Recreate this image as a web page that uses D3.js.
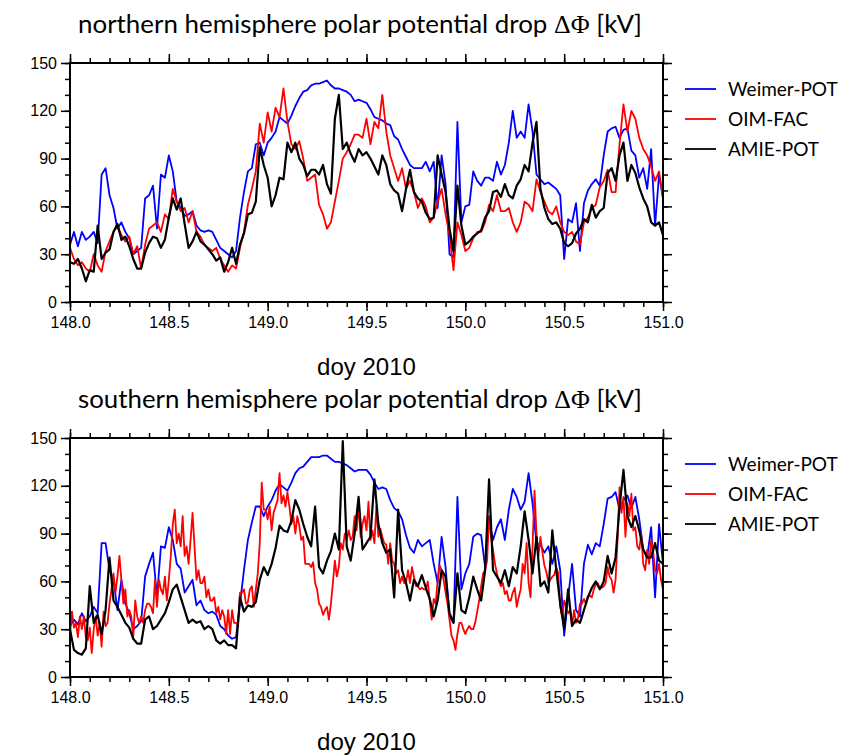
<!DOCTYPE html>
<html>
<head>
<meta charset="utf-8">
<script src="https://cdn.jsdelivr.net/npm/d3@7"></script>
<style>
  html, body { margin: 0; padding: 0; background: #fff; }
  svg { display: block; }
</style>
</head>
<body>
<div id="chart"></div>
<script>
// series are sampled on a regular grid starting at doy 148.0
const T_START = 148
const STEP_COARSE = 0.02
const STEP_FINE = 0.01

const X_MAJOR = [148, 148.5, 149, 149.5, 150, 150.5, 151]
const Y_MAJOR = [0, 30, 60, 90, 120, 150]

const SERIES_NAMES = ['Weimer-POT', 'OIM-FAC', 'AMIE-POT']
const SERIES_COLORS = ['#0000ff', '#ff0000', '#000000']

const NH_WEIMER = [
  36,44,35,44,39,41,44,37,80,84, 67,59,46,50,44,40,30,32,34,65,
  67,73,46,80,78,92,82,63,59,54, 55,57,48,45,44,45,44,39,34,32,
  30,28,32,53,69,82,84,99,100,92, 100,103,107,116,114,112,117,123,128,132,
  133,136,137,137,138,139,136,134,134,133, 132,130,126,127,126,125,121,116,115,114,
  112,111,104,102,96,91,86,84,84,84, 88,82,88,59,92,74,30,28,113,50,
  60,61,82,76,73,78,78,76,88,80, 86,100,120,103,107,103,124,107,80,77,
  74,75,73,71,67,27,52,50,62,32, 62,70,74,77,73,92,107,109,110,103,
  108,109,95,92,78,84,71,96,48,80,65
]
const NH_OIM = [
  34,27,23,25,21,19,30,23,19,32, 38,44,48,42,38,41,30,35,21,36,
  46,48,50,44,55,52,71,63,57,59, 50,57,44,41,36,34,32,34,27,23,
  19,23,21,34,44,61,71,82,112,100, 119,107,122,116,134,113,99,96,101,90,
  76,78,80,61,55,46,50,63,76,90, 94,99,105,105,103,115,99,113,109,130,
  107,92,84,76,84,71,76,69,59,65, 60,50,53,63,71,55,42,20,50,42,
  32,34,40,44,44,50,61,57,67,57, 57,59,50,44,50,63,61,57,77,69,
  63,57,55,60,50,44,42,44,38,36, 50,53,59,61,72,76,83,69,69,99,
  124,107,120,115,103,96,92,85,76,82,65
]
const NH_AMIE = [
  25,24,27,21,13,20,19,48,27,31, 33,44,49,39,41,35,27,21,21,31,
  37,41,40,34,39,53,65,58,65,49, 34,38,44,38,36,33,30,26,28,19,
  25,34,24,36,43,55,56,63,97,86, 78,60,67,78,77,100,94,100,90,86,
  79,83,83,80,86,74,68,115,130,96, 100,93,88,96,92,94,90,85,80,92,
  86,74,70,68,57,71,83,69,65,63, 56,52,53,92,80,69,46,32,73,48,
  36,38,41,43,45,53,57,69,70,66, 74,67,65,73,77,86,82,100,113,71,
  59,52,49,50,46,37,35,37,43,46, 52,50,61,53,57,59,81,84,76,92,
  100,76,86,81,72,65,60,50,48,50,42
]

const SH_WEIMER = [
  32,36,33,40,35,38,44,40,84,84, 67,61,42,61,46,40,30,32,35,63,
  71,78,50,82,81,94,86,71,68,53, 57,61,45,48,42,40,41,39,32,30,
  26,24,25,46,67,86,97,107,107,101, 107,111,117,121,119,117,122,128,131,132,
  135,138,138,138,139,139,137,135,135,134, 133,131,129,130,130,130,127,122,118,119,
  118,111,106,104,99,89,81,78,86,82, 84,86,71,59,88,69,38,34,113,55,
  65,71,88,90,89,69,98,86,94,99, 86,105,118,113,105,110,128,109,84,83,
  78,82,71,82,67,26,50,71,42,38, 71,83,77,84,82,96,112,113,116,105,
  111,114,106,113,99,80,75,94,50,96,71
]
// southern OIM-FAC is very noisy, read at 0.01 day
const SH_OIM = [
  27,41,31,34,25,38,30,38,25,23, 31,15,30,38,26,34,19,41,32,34,
  46,55,65,53,63,76,61,46,55,38, 42,38,25,48,38,34,38,34,42,46,
  46,44,40,61,44,61,55,52,63,48, 61,76,96,105,84,90,82,101,76,82,
  71,86,103,82,61,67,59,59,63,50, 55,48,48,50,40,44,36,42,38,27,
  42,27,42,34,34,32,53,53,55,46, 47,55,57,44,55,65,84,122,105,105,
  99,107,92,103,107,111,128,109,114,107, 116,107,96,101,90,101,95,86,88,71,
  71,71,69,72,59,55,46,44,39,42, 44,36,46,59,73,63,69,84,80,90,
  86,92,86,88,101,92,108,88,96,101, 92,110,86,92,84,107,88,93,88,84,
  83,71,84,73,71,65,67,59,63,59, 59,67,59,69,63,57,57,55,56,55,
  55,60,48,36,49,46,61,70,67,61, 53,46,36,26,23,17,27,34,34,30,
  27,30,32,30,30,34,41,48,57,65, 67,73,101,88,80,71,65,60,57,59,
  52,54,48,48,53,56,44,50,55,71, 65,84,59,50,82,117,90,76,88,78,
  70,66,59,61,63,64,69,65,44,38, 48,44,40,42,32,42,34,37,46,46,
  49,46,51,51,50,55,58,59,56,56, 57,59,69,63,61,53,61,86,119,103,
  113,88,109,101,115,92,94,82,80,90, 71,67,80,71,86,79,67,65,71,61,
  55
]
const SH_AMIE = [
  30,17,15,14,18,57,34,39,27,42, 75,48,44,39,34,31,24,21,21,36,
  38,30,32,36,40,47,55,58,50,42, 34,36,34,35,30,32,30,23,21,23,
  20,20,18,50,41,45,44,47,61,69, 64,71,81,95,92,91,98,111,105,96,
  88,82,107,69,65,73,79,90,80,148, 82,73,90,113,80,84,88,124,96,84,
  78,80,50,105,67,59,48,61,57,64, 56,49,38,48,67,63,40,34,65,42,
  40,50,63,55,48,67,124,67,63,59, 67,57,69,65,82,104,86,65,88,57,
  60,53,92,67,46,30,55,32,36,34, 42,50,56,60,55,60,76,65,75,107,
  130,101,94,101,92,80,75,75,84,73,71
]

const W = 843
const H = 755
const PLOT_LEFT = 70
const PLOT_W = 593
const PLOT_H = 239
const MAJOR_TICK = 9
const MINOR_TICK = 5
const TICK_FONT = '"Liberation Sans", Arial, Helvetica, sans-serif'
const TITLE_FONT = 'Lato, "Open Sans", sans-serif'
const LINE_WIDTHS = [1.8, 1.8, 2.2]

const panels = [
  {
    id: 'nh', top: 63,
    title: 'northern hemisphere polar potential drop ',
    series: [
      { values: NH_WEIMER, step: STEP_COARSE },
      { values: NH_OIM, step: STEP_COARSE },
      { values: NH_AMIE, step: STEP_COARSE },
    ],
  },
  {
    id: 'sh', top: 438,
    title: 'southern hemisphere polar potential drop ',
    series: [
      { values: SH_WEIMER, step: STEP_COARSE },
      { values: SH_OIM, step: STEP_FINE },
      { values: SH_AMIE, step: STEP_COARSE },
    ],
  },
]

const x = d3.scaleLinear().domain([148, 151]).range([0, PLOT_W])
const y = d3.scaleLinear().domain([0, 150]).range([PLOT_H, 0])

const xMinor = d3.range(1480, 1511).map(v => v / 10)
const yMinor = d3.range(0, 151, 10)

const svg = d3.select('#chart')
  .append('svg')
  .attr('width', W)
  .attr('height', H)
  .attr('viewBox', `0 0 ${W} ${H}`)

function styleAxis(g) {
  g.select('.domain').remove()
  g.selectAll('line').attr('stroke', '#000').attr('stroke-width', 1.5)
  g.selectAll('text')
    .attr('fill', '#000')
    .attr('font-family', TICK_FONT)
    .attr('font-size', 16)
}

function drawPanel(p) {
  const g = svg.append('g')
    .attr('transform', `translate(${PLOT_LEFT},${p.top})`)

  g.append('clipPath').attr('id', `clip-${p.id}`)
    .append('rect').attr('width', PLOT_W).attr('height', PLOT_H)

  const plot = g.append('g').attr('clip-path', `url(#clip-${p.id})`)
  plot.selectAll('path.series')
    .data(p.series)
    .join('path')
    .attr('class', 'series')
    .attr('fill', 'none')
    .attr('stroke', (_, i) => SERIES_COLORS[i])
    .attr('stroke-width', (_, i) => LINE_WIDTHS[i])
    .attr('stroke-linejoin', 'round')
    .attr('d', s => d3.line()
      .x((_, i) => x(T_START + i * s.step))
      .y(v => y(v))(s.values))

  // bottom axis: major with labels + minor
  g.append('g').attr('transform', `translate(0,${PLOT_H})`)
    .call(d3.axisBottom(x).tickValues(X_MAJOR).tickFormat(d3.format('.1f'))
      .tickSize(MAJOR_TICK).tickPadding(6))
    .call(styleAxis)
  g.append('g').attr('transform', `translate(0,${PLOT_H})`)
    .call(d3.axisBottom(x).tickValues(xMinor).tickFormat('').tickSize(MINOR_TICK))
    .call(styleAxis)

  // top axis: ticks only
  g.append('g')
    .call(d3.axisTop(x).tickValues(X_MAJOR).tickFormat('').tickSize(MAJOR_TICK))
    .call(styleAxis)
  g.append('g')
    .call(d3.axisTop(x).tickValues(xMinor).tickFormat('').tickSize(MINOR_TICK))
    .call(styleAxis)

  // left axis
  g.append('g')
    .call(d3.axisLeft(y).tickValues(Y_MAJOR).tickFormat(d3.format('d'))
      .tickSize(MAJOR_TICK).tickPadding(4))
    .call(styleAxis)
  g.append('g')
    .call(d3.axisLeft(y).tickValues(yMinor).tickFormat('').tickSize(MINOR_TICK))
    .call(styleAxis)

  // right axis: ticks only
  g.append('g').attr('transform', `translate(${PLOT_W},0)`)
    .call(d3.axisRight(y).tickValues(Y_MAJOR).tickFormat('').tickSize(MAJOR_TICK))
    .call(styleAxis)
  g.append('g').attr('transform', `translate(${PLOT_W},0)`)
    .call(d3.axisRight(y).tickValues(yMinor).tickFormat('').tickSize(MINOR_TICK))
    .call(styleAxis)

  g.append('rect')
    .attr('width', PLOT_W).attr('height', PLOT_H)
    .attr('fill', 'none').attr('stroke', '#000').attr('stroke-width', 2)

  // title
  const t = svg.append('text')
    .attr('x', 360).attr('y', p.top - 30)
    .attr('text-anchor', 'middle')
    .attr('font-family', TITLE_FONT)
    .attr('font-size', 25)
    .attr('fill', '#000')
    .attr('textLength', 564)
    .attr('lengthAdjust', 'spacingAndGlyphs')
  t.append('tspan').text(p.title)
  t.append('tspan').attr('font-family', '"Liberation Serif", "DejaVu Serif", serif').text('ΔΦ')
  t.append('tspan').text(' [kV]')

  // x axis title
  svg.append('text')
    .attr('x', PLOT_LEFT + PLOT_W / 2).attr('y', p.top + PLOT_H + 73)
    .attr('text-anchor', 'middle')
    .attr('font-family', TICK_FONT)
    .attr('font-size', 24)
    .attr('fill', '#000')
    .text('doy 2010')

  // legend
  const lg = svg.append('g')
    .attr('transform', `translate(${PLOT_LEFT + PLOT_W + 22},${p.top + 26})`)
  const items = lg.selectAll('g.item')
    .data(SERIES_NAMES)
    .join('g')
    .attr('class', 'item')
    .attr('transform', (_, i) => `translate(0,${i * 30})`)
  items.append('line')
    .attr('x1', 0).attr('x2', 31)
    .attr('stroke', (_, i) => SERIES_COLORS[i])
    .attr('stroke-width', 1.8)
  items.append('text')
    .attr('x', 43).attr('y', 7)
    .attr('font-family', TITLE_FONT)
    .attr('font-size', 19)
    .attr('fill', '#000')
    .text(d => d)
}

panels.forEach(drawPanel)
</script>
</body>
</html>
